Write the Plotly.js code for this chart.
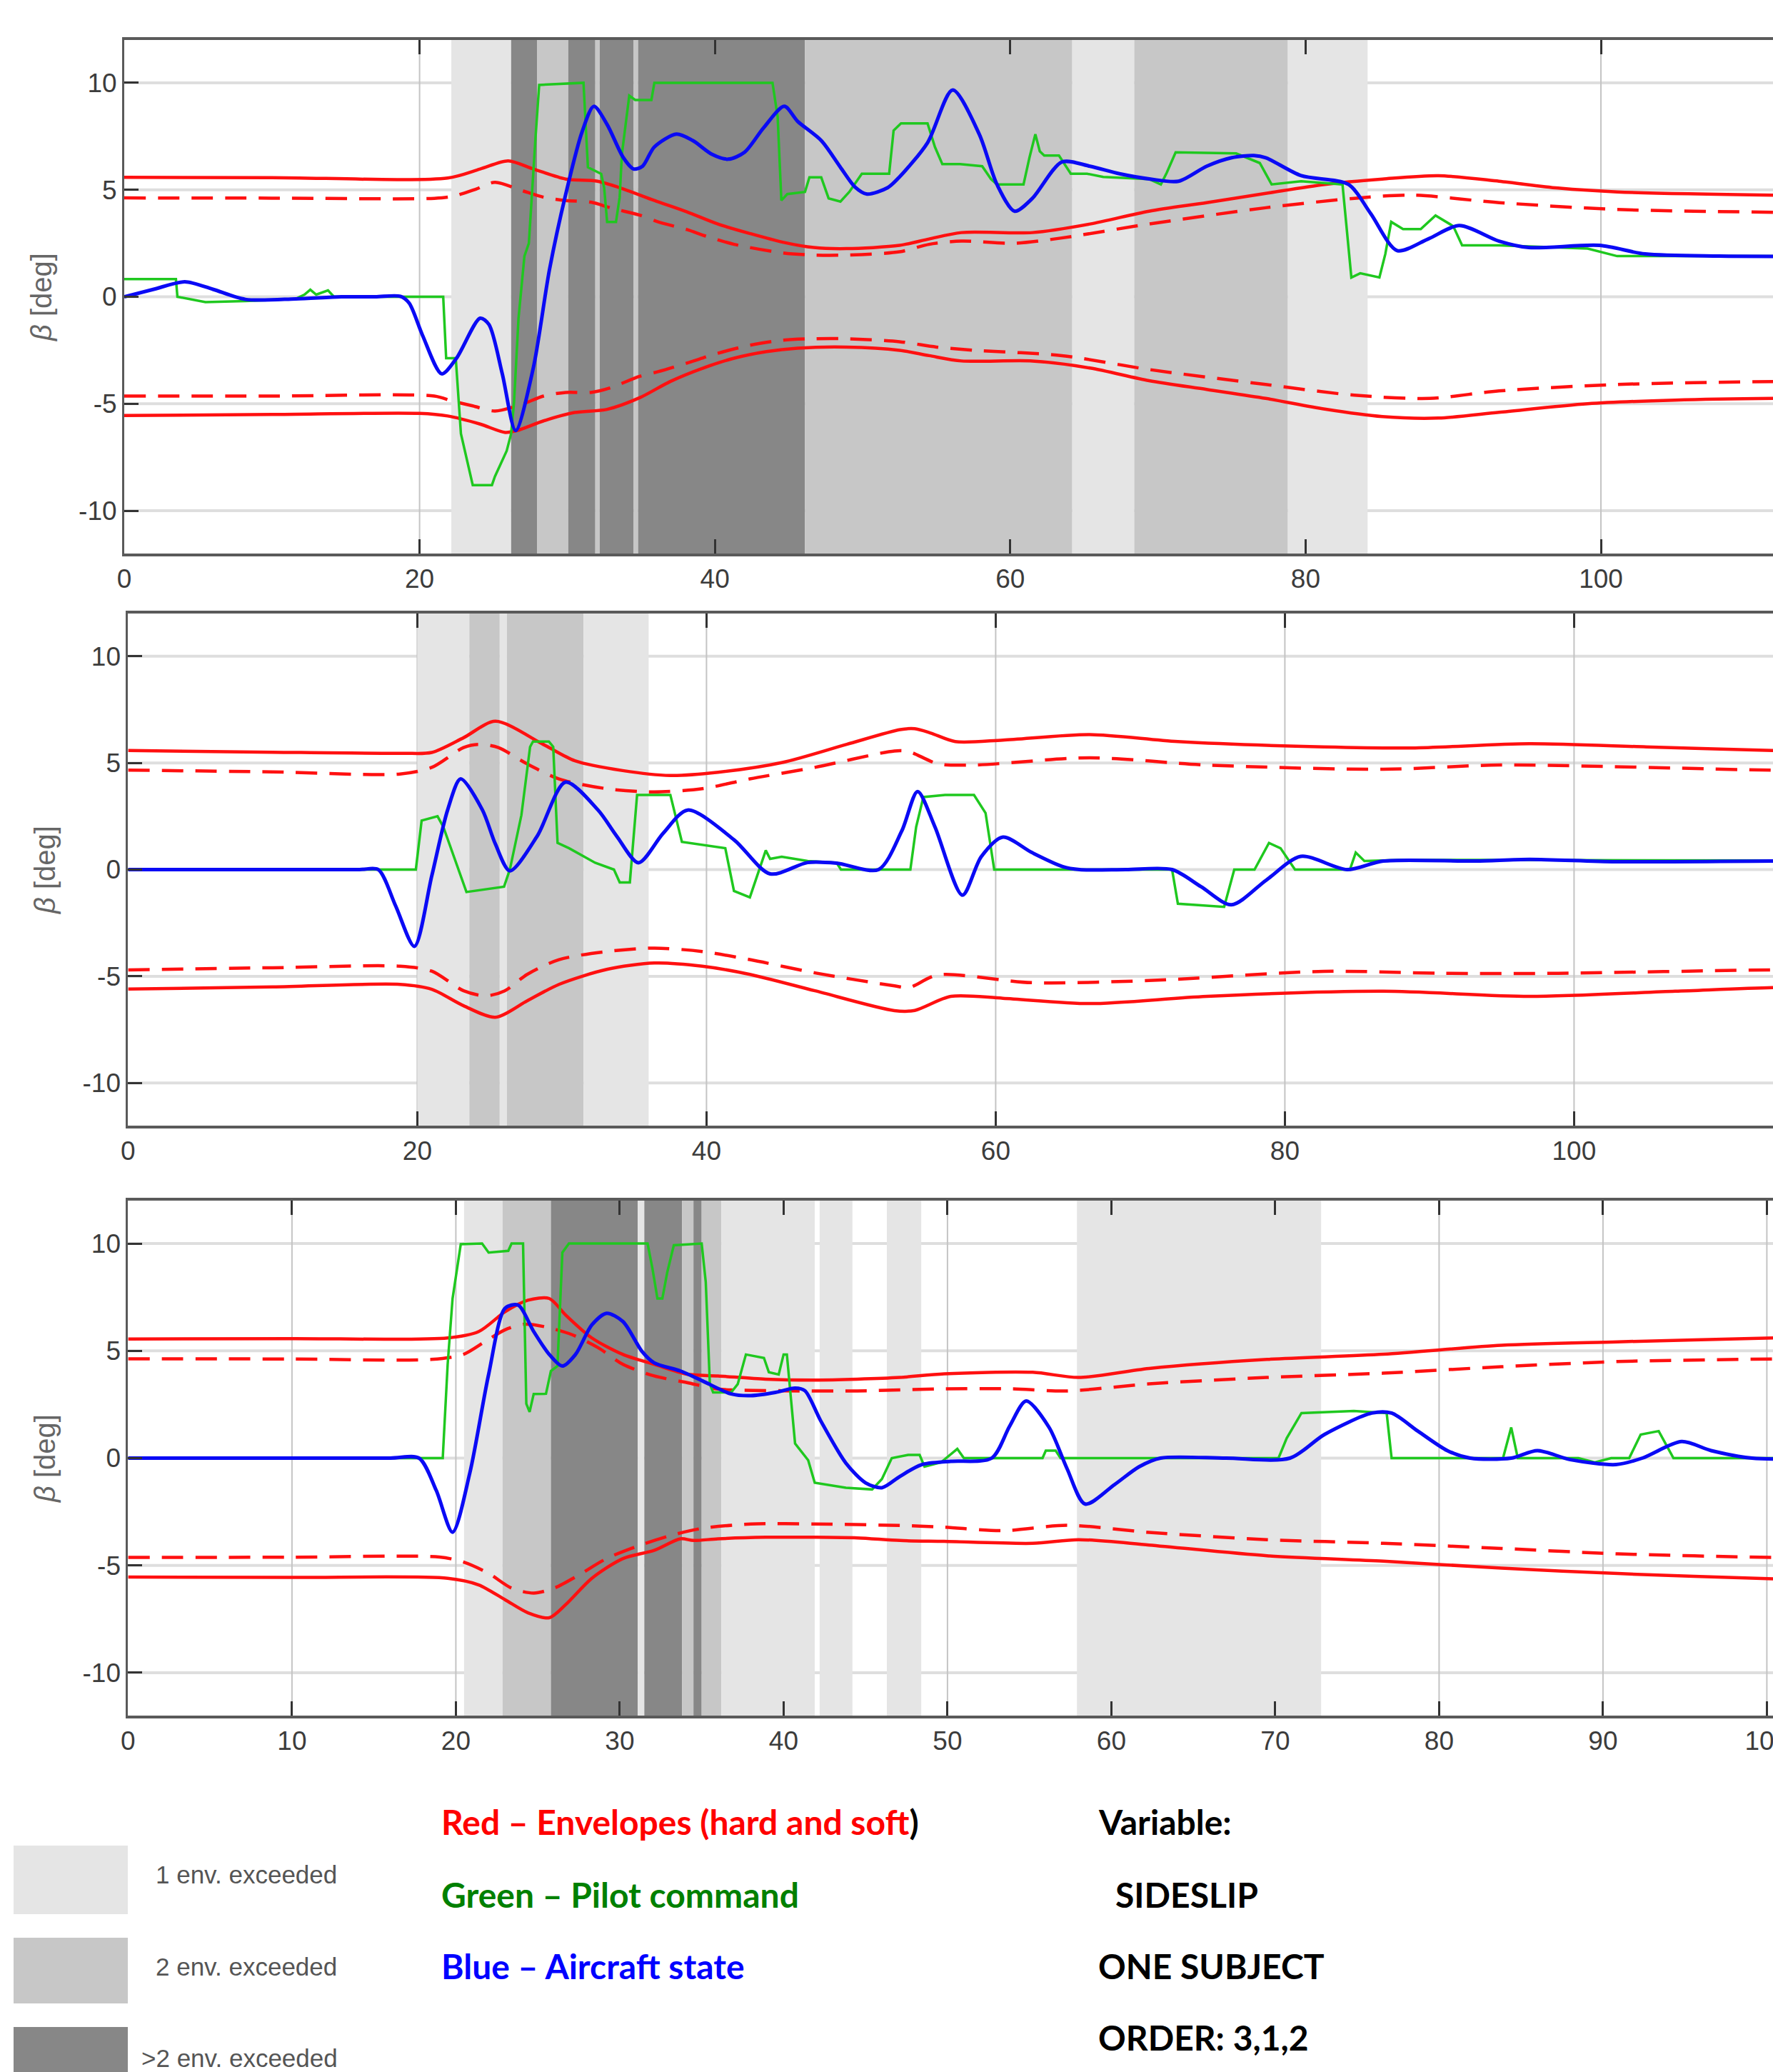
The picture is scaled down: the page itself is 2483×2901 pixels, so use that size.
<!DOCTYPE html>
<html><head><meta charset="utf-8">
<script src="https://cdn.plot.ly/plotly-3.0.1.min.js"></script>
<style>html,body{margin:0;padding:0;background:#fff;overflow:hidden;width:2483px;height:2901px}#chart{width:2560px;height:2901px}</style>
</head><body><div id="chart"></div><script>
// ---------- DATA: panel 1 ----------
const p1Blue = [[0,0],[2,0.35],[4.1,0.7],[6,0.35],[8.2,-0.12],[11.6,-0.1],[14.7,0],[17,0],[18.7,0.02],[19.3,-0.3],[20.2,-1.8],[21.5,-3.6],[22.5,-2.87],[24.1,-1.0],[24.7,-1.3],[25.6,-3.6],[26.5,-6.25],[27.7,-3.33],[28.8,1.28],[29.9,4.8],[31.0,7.7],[31.8,8.9],[32.7,8.05],[33.8,6.5],[34.5,5.97],[35.1,6.1],[35.9,7.0],[37.4,7.6],[38.5,7.3],[39.8,6.66],[40.9,6.43],[42.0,6.75],[43.3,7.9],[44.7,8.9],[45.6,8.2],[47.2,7.3],[48.5,6.05],[49.5,5.12],[50.3,4.8],[51.7,5.1],[52.5,5.6],[54.4,7.2],[56.1,9.66],[57.9,7.6],[59.1,5.25],[60.3,4.0],[61.5,4.6],[63.5,6.3],[65.4,6.1],[67.4,5.75],[69.5,5.5],[71.4,5.4],[73.3,6.1],[75.0,6.5],[76.5,6.6],[77.3,6.5],[79.7,5.66],[82.9,5.25],[84.4,3.9],[86.2,2.16],[88.3,2.7],[90.4,3.33],[93.1,2.6],[95.1,2.3],[99.9,2.4],[103.0,2.0],[108,1.9],[118,1.9]];
const p1Green = [[0,0.83],[3.5,0.83],[3.6,0],[5.5,-0.25],[8.2,-0.2],[11.6,-0.1],[12.2,0.1],[12.6,0.33],[13.0,0.1],[13.4,0.2],[13.8,0.3],[14.2,0],[21.6,0],[21.8,-2.87],[22.45,-2.87],[22.8,-6.4],[23.6,-8.8],[24.9,-8.8],[25.1,-8.4],[25.9,-7.2],[26.2,-6.4],[26.4,-4.9],[26.7,-1.0],[27.1,1.9],[27.4,2.5],[27.85,7.43],[28.1,9.9],[31.1,10],[31.4,6.05],[32.3,5.74],[32.5,5.1],[32.7,3.5],[33.3,3.5],[33.55,4.65],[33.7,6.66],[34.2,9.4],[34.6,9.2],[35.7,9.2],[35.9,10],[43.9,10],[44.25,8.4],[44.5,4.5],[44.9,4.8],[46.1,4.9],[46.4,5.58],[47.2,5.58],[47.5,4.95],[47.7,4.6],[48.5,4.45],[49.1,4.9],[49.95,5.75],[51.8,5.75],[52.1,7.77],[52.6,8.1],[54.4,8.1],[54.9,7.0],[55.4,6.2],[56.6,6.2],[58.1,6.1],[58.7,5.5],[59.1,5.25],[60.9,5.25],[61.3,6.5],[61.7,7.6],[62.0,6.8],[62.3,6.6],[63.3,6.6],[64.1,5.75],[65.2,5.75],[66.3,5.6],[69.4,5.5],[70.2,5.25],[70.6,5.8],[71.2,6.75],[75.3,6.7],[76.9,6.25],[77.7,5.25],[79.7,5.4],[82.5,5.25],[82.8,3.0],[83.1,0.9],[83.7,1.1],[85.0,0.9],[85.4,2.0],[85.8,3.5],[86.6,3.16],[87.8,3.16],[88.8,3.8],[90.0,3.3],[90.6,2.4],[93.1,2.4],[99.1,2.25],[101.1,1.9],[118,1.9]];
const p1UpHard = [[0,5.58],[10,5.57],[21.9,5.55],[24.1,5.97],[26.0,6.35],[27.7,5.97],[29.9,5.5],[32.05,5.4],[33.8,5.04],[35.9,4.5],[38.1,3.97],[40.2,3.4],[42.4,2.95],[44.6,2.55],[46.7,2.3],[48.9,2.25],[52.5,2.4],[54.5,2.7],[56.7,3.0],[61.5,3.0],[65.4,3.4],[69.4,4.0],[73.3,4.4],[77.3,4.83],[81.3,5.25],[85.2,5.5],[89.0,5.66],[93.1,5.4],[97.1,5.08],[101.1,4.9],[111.7,4.75],[118,4.72]];
const p1UpSoft = [[0,4.62],[10,4.61],[21,4.6],[22.3,4.7],[23.85,5.04],[25.1,5.35],[26.9,4.97],[28.4,4.65],[29.9,4.5],[31.6,4.42],[33.1,4.12],[34.9,3.82],[36.15,3.5],[38.1,3.14],[39.4,2.83],[41.3,2.45],[44.6,2.05],[46.7,1.95],[48.9,1.95],[52.5,2.1],[54.5,2.45],[56.7,2.6],[60.3,2.5],[63.5,2.75],[69.4,3.4],[77.3,4.16],[83.3,4.6],[87.2,4.75],[93.1,4.4],[101.1,4.08],[111.7,3.95],[118,3.93]];
const p1LoSoft = [[0,-4.64],[10,-4.64],[21,-4.64],[22.2,-4.87],[23.6,-5.1],[25.1,-5.34],[26.9,-5.03],[28.4,-4.64],[29.9,-4.47],[31.6,-4.47],[32.9,-4.26],[34.9,-3.72],[36.15,-3.5],[38.1,-3.1],[40.2,-2.64],[42.4,-2.26],[44.6,-2.03],[46.7,-1.96],[48.9,-1.96],[52.5,-2.1],[55,-2.35],[57.5,-2.5],[63.5,-2.75],[69.4,-3.4],[77.3,-4.1],[83.3,-4.6],[88.4,-4.75],[93.1,-4.4],[101.1,-4.1],[111.7,-3.96],[118,-3.95]];
const p1LoHard = [[0,-5.55],[10,-5.5],[20,-5.45],[21.9,-5.57],[24.1,-5.95],[25.8,-6.34],[26.6,-6.25],[28.4,-5.8],[30.5,-5.41],[32.7,-5.26],[34.9,-4.72],[37.0,-3.95],[39.2,-3.33],[41.3,-2.87],[43.5,-2.56],[45.6,-2.4],[48.9,-2.35],[52.5,-2.5],[54.5,-2.75],[56.7,-3.0],[61.5,-3.0],[65.4,-3.33],[69.4,-3.92],[73.3,-4.33],[77.3,-4.75],[81.3,-5.25],[85.2,-5.6],[89.0,-5.67],[93.1,-5.4],[99.1,-5.0],[105.0,-4.83],[111.7,-4.75],[118,-4.74]];
// bands: [start, end, number of envelopes exceeded (1, 2, 3 = >2)]
const p1Bands = [[22.15,26.2,1],[26.2,27.95,3],[27.95,30.07,2],[30.07,31.9,3],[31.9,32.2,2],[32.2,34.5,3],[34.5,34.8,2],[34.8,46.1,3],[46.1,64.2,2],[64.2,68.4,1],[68.4,78.8,2],[78.8,84.2,1]];

// ---------- DATA: panel 2 ----------
const p2Blue = [[0,0],[8,0],[16,0],[17.3,0],[18.5,-1.7],[19.8,-3.6],[21.0,-0.3],[22.1,2.8],[23.0,4.25],[24.5,2.8],[25.4,1.2],[26.4,-0.06],[28.3,1.58],[30.25,4.1],[32.5,2.79],[33.8,1.56],[35.3,0.32],[37.0,1.7],[38.7,2.79],[41.9,1.4],[44.4,-0.2],[47.0,0.33],[49.0,0.3],[51.9,0],[53.5,1.8],[54.6,3.66],[55.8,2.0],[57.7,-1.2],[59.0,0.6],[60.5,1.52],[62.5,0.8],[64.6,0.15],[65.8,0],[69,0],[72.2,0],[74.2,-0.8],[76.3,-1.65],[78.7,-0.5],[81.1,0.62],[84.3,0],[86.8,0.4],[93.2,0.4],[96.9,0.48],[102.9,0.37],[113.7,0.4],[120,0.4]];
const p2Green = [[0,0],[19.9,0],[20.3,2.3],[21.4,2.5],[21.8,2.0],[23.4,-1.05],[26.0,-0.8],[26.4,0],[27.2,2.55],[27.8,5.75],[28.0,6.0],[29.1,6.0],[29.4,5.75],[29.7,1.25],[30.5,1.0],[32.3,0.32],[33.6,0],[34.0,-0.6],[34.7,-0.6],[35.2,3.5],[37.5,3.5],[38.3,1.3],[41.3,1.0],[41.9,-1.0],[43.0,-1.3],[43.7,0.1],[44.1,0.9],[44.4,0.5],[45.2,0.6],[47.0,0.4],[49.0,0.32],[49.3,0],[54.1,0],[54.5,2],[55.0,3.4],[56.5,3.5],[58.5,3.5],[59.3,2.65],[59.9,0],[72.2,0],[72.6,-1.6],[75.8,-1.75],[76.5,0],[77.9,0],[78.9,1.25],[79.7,1.0],[80.7,0],[84.5,0],[84.9,0.8],[85.5,0.4],[88,0.45],[95,0.45],[120,0.42]];
const p2UpHard = [[0,5.58],[10,5.5],[19,5.45],[21.0,5.49],[23.2,6.18],[25.4,6.95],[28.7,5.87],[30.9,5.1],[34.2,4.64],[37.5,4.41],[40.8,4.56],[45.25,5.02],[49.7,5.87],[53.4,6.56],[54.4,6.6],[55.5,6.4],[57.2,6.0],[60.5,6.07],[66.5,6.33],[72.6,6.0],[82.7,5.75],[88.8,5.7],[96.9,5.9],[105.0,5.75],[113.7,5.58],[120,5.55]];
const p2UpSoft = [[0,4.66],[10,4.58],[18.8,4.48],[21.0,4.79],[23.2,5.72],[24.2,5.87],[25.6,5.72],[27.6,4.95],[29.8,4.25],[33.1,3.79],[36.4,3.64],[39.7,3.79],[43.0,4.25],[47.5,4.79],[53.0,5.56],[54.0,5.53],[56.0,4.96],[58.5,4.9],[66.5,5.24],[74.6,4.9],[86.8,4.7],[94.9,4.9],[113.7,4.66],[120,4.65]];
const p2LoSoft = [[0,-4.7],[10,-4.6],[18.8,-4.53],[21.0,-4.76],[23.2,-5.68],[24.75,-5.92],[26.05,-5.68],[27.6,-4.91],[29.8,-4.22],[33.1,-3.84],[36.4,-3.68],[39.7,-3.84],[43.0,-4.22],[47.5,-4.84],[53.0,-5.45],[54.0,-5.53],[56.0,-4.94],[62.5,-5.3],[70.6,-5.2],[82.7,-4.77],[90.8,-4.86],[98.9,-4.86],[113.7,-4.7],[120,-4.7]];
const p2LoHard = [[0,-5.6],[10,-5.5],[18.8,-5.38],[21.0,-5.61],[23.2,-6.38],[25.4,-6.92],[27.6,-6.15],[29.8,-5.38],[33.1,-4.68],[36.4,-4.38],[39.7,-4.53],[43.0,-4.91],[47.5,-5.68],[53.0,-6.61],[54.4,-6.6],[56.9,-5.94],[60.5,-6.03],[66.5,-6.28],[74.6,-5.94],[86.8,-5.7],[96.9,-5.94],[107,-5.7],[113.7,-5.53],[120,-5.5]];
const p2Bands = [[20.0,23.6,1],[23.6,25.7,2],[25.7,26.2,1],[26.2,31.5,2],[31.5,36.0,1]];

// ---------- DATA: panel 3 ----------
const p3Blue = [[0,0],[8,0],[16,0],[17.75,0],[18.8,-1.5],[19.8,-3.45],[20.85,-0.7],[22.0,3.9],[23.0,6.98],[23.8,7.13],[24.75,5.9],[25.7,4.83],[26.5,4.29],[27.3,4.83],[28.3,6.21],[29.2,6.75],[30.2,6.36],[31.35,4.98],[32.1,4.44],[33.7,4.06],[35.05,3.6],[36.8,2.99],[38.0,2.91],[39.5,3.06],[40.7,3.26],[41.3,3.14],[42.25,1.76],[43.8,-0.23],[45.0,-1.15],[46.0,-1.38],[47.1,-0.85],[48.4,-0.31],[50.2,-0.15],[52.7,0],[53.8,1.5],[54.8,2.66],[56.2,1.43],[57.3,-0.5],[58.4,-2.14],[60.2,-1.23],[61.7,-0.4],[63.0,0],[67,0],[70.9,0],[73.0,1.1],[75.9,2.1],[77.1,2.1],[78.7,1.26],[80.5,0.35],[81.9,0],[84.4,0],[86.0,0.35],[88.0,-0.07],[90.8,-0.3],[92.4,0],[94.8,0.77],[96.6,0.35],[99.1,0],[106,0]];
const p3Green = [[0,0],[19.2,0],[19.5,4.37],[19.8,7.44],[20.3,9.97],[21.6,10],[22.0,9.58],[23.2,9.66],[23.4,10],[24.1,10],[24.3,2.53],[24.5,2.15],[24.75,2.99],[25.5,3.0],[25.8,4.06],[26.2,4.29],[26.5,9.58],[26.9,10],[31.7,10],[32.0,8.82],[32.3,7.44],[32.6,7.44],[32.9,8.66],[33.3,9.92],[35.0,10],[35.25,8.2],[35.5,3.45],[35.7,3.06],[36.8,3.06],[37.2,3.45],[37.7,4.83],[38.8,4.67],[39.1,4.0],[39.7,3.9],[40.0,4.83],[40.2,4.83],[40.7,0.68],[41.2,0.2],[41.5,-0.1],[41.9,-1.15],[43.8,-1.38],[45.4,-1.46],[46.0,-0.97],[46.6,0],[47.6,0.15],[48.3,0.15],[48.6,-0.4],[49.6,-0.2],[50.6,0.43],[51.0,0],[55.8,0],[56.0,0.35],[56.6,0.35],[56.9,0],[70.2,0],[70.7,0.93],[71.6,2.1],[74.8,2.2],[76.8,2.1],[77.1,0],[83.9,0],[84.4,1.43],[84.8,0],[88.5,0],[89.5,-0.2],[90.5,0],[91.6,0],[92.3,1.1],[93.4,1.26],[94.3,0],[106,0]];
const p3UpHard = [[0,5.55],[10,5.57],[19.5,5.6],[21.4,5.9],[23.0,6.82],[24.4,7.36],[25.7,7.44],[26.7,6.67],[28.3,5.6],[30.2,4.83],[32.1,4.37],[34.1,3.91],[36.0,3.83],[38.9,3.68],[41.9,3.64],[44.5,3.68],[47.1,3.76],[49.8,3.93],[55.2,4.0],[58.0,3.76],[62.3,4.18],[69.5,4.6],[76.6,4.84],[83.8,5.26],[90.9,5.42],[100.4,5.6],[106,5.68]];
const p3UpSoft = [[0,4.63],[10,4.62],[18.5,4.6],[20.45,4.83],[21.8,5.44],[23.0,5.98],[24.2,6.24],[25.5,6.11],[27.1,5.75],[28.7,5.14],[30.2,4.37],[32.1,3.83],[34.1,3.52],[36.0,3.22],[39.9,3.14],[44.5,3.13],[49.8,3.23],[53.8,3.23],[57.3,3.13],[62.3,3.46],[69.5,3.76],[76.6,3.96],[83.8,4.26],[90.9,4.5],[100.4,4.62],[106,4.65]];
const p3LoSoft = [[0,-4.63],[10,-4.62],[19,-4.61],[20.45,-4.84],[22.0,-5.37],[23.4,-6.06],[24.75,-6.29],[26.0,-6.06],[27.5,-5.45],[29.2,-4.68],[31.2,-4.07],[33.1,-3.61],[35.05,-3.27],[38.0,-3.07],[41.9,-3.07],[47.1,-3.14],[49.8,-3.22],[53.4,-3.38],[57.3,-3.13],[62.3,-3.46],[69.5,-3.8],[76.6,-3.97],[83.8,-4.21],[90.9,-4.46],[100.4,-4.63],[106,-4.66]];
const p3LoHard = [[0,-5.54],[10,-5.56],[19.5,-5.6],[21.4,-5.91],[23.0,-6.6],[24.4,-7.21],[25.7,-7.44],[26.7,-6.83],[28.3,-5.6],[30.2,-4.68],[32.1,-4.3],[33.7,-3.76],[34.5,-3.84],[36.0,-3.76],[38.9,-3.69],[41.9,-3.69],[44.5,-3.72],[47.1,-3.84],[49.8,-3.88],[55.2,-3.97],[58.0,-3.8],[62.3,-4.05],[69.5,-4.55],[76.6,-4.8],[83.8,-5.13],[90.9,-5.38],[100.4,-5.63],[106,-5.7]];
const p3Bands = [[20.5,22.85,1],[22.85,25.8,2],[25.8,31.1,3],[31.1,31.5,1],[31.5,33.8,3],[33.8,34.5,2],[34.5,35.0,3],[35.0,36.2,2],[36.2,41.9,1],[42.2,44.2,1],[46.3,48.4,1],[57.9,72.8,1]];

// ---------- TEXT ----------
const yTickVals = [-10,-5,0,5,10];
const yTickText = ['-10','-5','0','5','10'];
const yTitle = '<i>β</i> [deg]';
const bandLabels = ['1 env. exceeded','2 env. exceeded','>2 env. exceeded'];
const seriesLabels = ['Red – Envelopes (hard and soft<span style="color:#000">)</span>','Green – Pilot command','Blue – Aircraft state'];
const infoLabels = ['Variable:','SIDESLIP','ONE SUBJECT','ORDER: 3,1,2'];

// ---------- STYLE / LAYOUT ----------
const W = 2560, H = 2901;
const bandColor = {1:'#e5e5e5', 2:'#c7c7c7', 3:'#878787'};
const panels = [
  {left:174, top:56, bottom:775, ppu:20.68, dtick:20, blue:p1Blue, green:p1Green, uh:p1UpHard, us:p1UpSoft, ls:p1LoSoft, lh:p1LoHard, bands:p1Bands},
  {left:179.4, top:859, bottom:1576, ppu:20.25, dtick:20, blue:p2Blue, green:p2Green, uh:p2UpHard, us:p2UpSoft, ls:p2LoSoft, lh:p2LoHard, bands:p2Bands},
  {left:179.4, top:1681, bottom:2402, ppu:22.95, dtick:10, blue:p3Blue, green:p3Green, uh:p3UpHard, us:p3UpSoft, ls:p3LoSoft, lh:p3LoHard, bands:p3Bands}
];

const traces = [], shapes = [], annotations = [];
const layout = {width:W, height:H, margin:{l:0,r:0,t:0,b:0}, paper_bgcolor:'#fff', plot_bgcolor:'rgba(0,0,0,0)', showlegend:false};
const tickFont = {family:'Liberation Sans, Arial, sans-serif', size:37, color:'#3c3c3c'};

panels.forEach((p,i) => {
  const n = i+1;
  const xa = n===1 ? 'x' : 'x'+n, ya = n===1 ? 'y' : 'y'+n;
  const xk = n===1 ? 'xaxis' : 'xaxis'+n, yk = n===1 ? 'yaxis' : 'yaxis'+n;
  const xmax = (W-p.left)/p.ppu;
  layout[xk] = {
    domain:[p.left/W, 1], range:[0, xmax], anchor:ya,
    tick0:0, dtick:p.dtick, ticks:'inside', ticklen:20, tickwidth:3, tickcolor:'#333',
    showline:true, linecolor:'#5a5a5a', linewidth:4, mirror:'ticks',
    showgrid:false, zeroline:false, layer:'above traces',
    tickfont:tickFont, fixedrange:true
  };
  layout[yk] = {
    domain:[1-p.bottom/H, 1-p.top/H], range:[-12,12], anchor:xa,
    tickvals:yTickVals, ticktext:yTickText, ticks:'inside', ticklen:20, tickwidth:3, tickcolor:'#333',
    showline:true, linecolor:'#5a5a5a', linewidth:3, mirror:'ticks',
    showgrid:false, zeroline:false,
    tickfont:tickFont, fixedrange:true,
    title:{text:yTitle, font:{family:'Liberation Sans, Arial, sans-serif', size:40, color:'#666'}, standoff:26}
  };
  // grid lines (drawn first, so the shaded bands cover them)
  yTickVals.forEach(v => shapes.push({type:'line', xref:xa+' domain', yref:ya, x0:0, x1:1, y0:v, y1:v,
    line:{color:'#dedede', width:4}, layer:'below'}));
  for (let t = p.dtick; t < xmax; t += p.dtick) shapes.push({type:'line', xref:xa, yref:ya+' domain', x0:t, x1:t, y0:0, y1:1,
    line:{color:'#c4c4c4', width:2}, layer:'below'});
  p.bands.forEach(b => shapes.push({type:'rect', xref:xa, yref:ya+' domain', x0:b[0], x1:b[1], y0:0, y1:1,
    fillcolor:bandColor[b[2]], line:{width:0}, layer:'below'}));
  const mk = (pts, color, width, dash, shape) => ({
    x:pts.map(q=>q[0]), y:pts.map(q=>q[1]), xaxis:xa, yaxis:ya, mode:'lines', hoverinfo:'skip',
    line:{color:color, width:width, dash:dash, shape:shape, smoothing:0.8}
  });
  traces.push(mk(p.uh, '#ff1010', 4.5, 'solid', 'spline'));
  traces.push(mk(p.us, '#ff1010', 4.5, '30px,17px', 'spline'));
  traces.push(mk(p.ls, '#ff1010', 4.5, '30px,17px', 'spline'));
  traces.push(mk(p.lh, '#ff1010', 4.5, 'solid', 'spline'));
  traces.push(mk(p.green, '#1fc81f', 3.5, 'solid', 'linear'));
  traces.push(mk(p.blue, '#0a0af5', 5, 'solid', 'spline'));
});

// legend swatches (band levels)
const swatchPos = [[2584,2680],[2713,2805],[2838,2915]];
swatchPos.forEach((s,k) => shapes.push({type:'rect', xref:'paper', yref:'paper', x0:19/W, x1:179/W, y0:1-s[1]/H, y1:1-s[0]/H,
  fillcolor:bandColor[k+1], line:{width:0}, layer:'below'}));
const bandLabelPos = [[216,2624],[216,2753],[196,2881]];
bandLabels.forEach((t,k) => annotations.push({xref:'paper', yref:'paper', x:bandLabelPos[k][0]/W, y:1-bandLabelPos[k][1]/H,
  xanchor:'left', yanchor:'middle', showarrow:false, text:t, font:{family:'Liberation Sans, Arial, sans-serif', size:35, color:'#555'}}));
const seriesColors = ['#ff0000','#008000','#0000ff'];
const seriesY = [2550,2652,2752];
seriesLabels.forEach((t,k) => annotations.push({xref:'paper', yref:'paper', x:616/W, y:1-seriesY[k]/H,
  xanchor:'left', yanchor:'middle', showarrow:false, text:'<b>'+t+'</b>', font:{family:'Lato, Open Sans, sans-serif', size:48, color:seriesColors[k]}}));
const infoPos = [[1536,2550],[1560,2652],[1536,2752],[1536,2852]];
infoLabels.forEach((t,k) => annotations.push({xref:'paper', yref:'paper', x:infoPos[k][0]/W, y:1-infoPos[k][1]/H,
  xanchor:'left', yanchor:'middle', showarrow:false, text:'<b>'+t+'</b>', font:{family:'Lato, Open Sans, sans-serif', size:48, color:'#000'}}));

layout.shapes = shapes;
layout.annotations = annotations;
Plotly.newPlot('chart', traces, layout, {staticPlot:true, displayModeBar:false});
</script></body></html>
